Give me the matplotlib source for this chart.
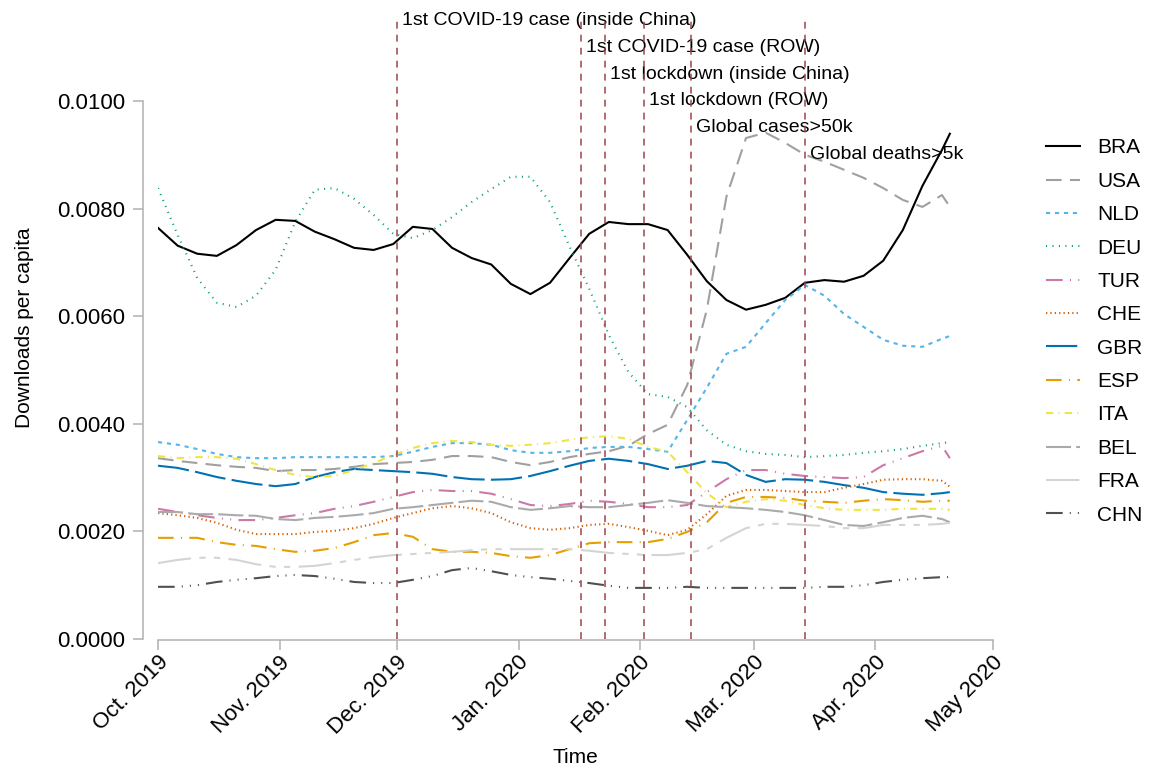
import pandas as pd
import matplotlib
matplotlib.use('Agg')
import matplotlib.pyplot as plt
import matplotlib.dates as mdates
from matplotlib.transforms import ScaledTranslation

plt.rcParams['font.family'] = ['Liberation Sans', 'DejaVu Sans']

####### Data (downloads per capita, every 5 days from 1 Oct 2019)

dates = list(pd.date_range('2019-10-01', '2020-04-18', freq='5D')) + [pd.Timestamp('2020-04-20')]

bra = [0.00764, 0.00731, 0.00716, 0.00712, 0.00732, 0.00760, 0.00779, 0.00777, 0.00757, 0.00743,
       0.00727, 0.00723, 0.00734, 0.00766, 0.00762, 0.00727, 0.00708, 0.00696, 0.00660, 0.00641,
       0.00662, 0.00708, 0.00753, 0.00775, 0.00771, 0.00771, 0.00760, 0.00714, 0.00665, 0.00630,
       0.00612, 0.00621, 0.00634, 0.00662, 0.00667, 0.00664, 0.00675, 0.00703, 0.00760, 0.00842,
       0.00909, 0.00939]
usa = [0.00336, 0.00331, 0.00327, 0.00323, 0.00320, 0.00318, 0.00312, 0.00314, 0.00314, 0.00316,
       0.00320, 0.00325, 0.00327, 0.00329, 0.00333, 0.00340, 0.00340, 0.00338, 0.00329, 0.00323,
       0.00329, 0.00338, 0.00344, 0.00349, 0.00359, 0.00381, 0.00398, 0.00472, 0.00612, 0.00822,
       0.00931, 0.00941, 0.00922, 0.00900, 0.00887, 0.00872, 0.00857, 0.00838, 0.00816, 0.00803,
       0.00825, 0.00803]
nld = [0.00366, 0.00361, 0.00353, 0.00344, 0.00338, 0.00336, 0.00336, 0.00338, 0.00338, 0.00338,
       0.00338, 0.00338, 0.00340, 0.00348, 0.00357, 0.00364, 0.00364, 0.00361, 0.00351, 0.00346,
       0.00346, 0.00349, 0.00355, 0.00357, 0.00357, 0.00353, 0.00348, 0.00407, 0.00467, 0.00530,
       0.00543, 0.00587, 0.00630, 0.00658, 0.00638, 0.00604, 0.00580, 0.00556, 0.00545, 0.00543,
       0.00558, 0.00563]
deu = [0.00838, 0.00751, 0.00671, 0.00625, 0.00617, 0.00638, 0.00686, 0.00775, 0.00835, 0.00838,
       0.00818, 0.00788, 0.00753, 0.00745, 0.00760, 0.00784, 0.00812, 0.00836, 0.00859, 0.00859,
       0.00812, 0.00729, 0.00651, 0.00565, 0.00496, 0.00455, 0.00450, 0.00431, 0.00388, 0.00361,
       0.00349, 0.00344, 0.00342, 0.00338, 0.00340, 0.00342, 0.00346, 0.00349, 0.00353, 0.00359,
       0.00364, 0.00366]
tur = [0.00242, 0.00236, 0.00230, 0.00225, 0.00221, 0.00221, 0.00225, 0.00230, 0.00234, 0.00242,
       0.00247, 0.00255, 0.00264, 0.00273, 0.00277, 0.00275, 0.00275, 0.00270, 0.00260, 0.00249,
       0.00247, 0.00251, 0.00257, 0.00255, 0.00251, 0.00245, 0.00245, 0.00249, 0.00273, 0.00297,
       0.00314, 0.00314, 0.00307, 0.00303, 0.00301, 0.00299, 0.00301, 0.00323, 0.00336, 0.00349,
       0.00359, 0.00336]
che = [0.00234, 0.00230, 0.00225, 0.00216, 0.00203, 0.00195, 0.00195, 0.00195, 0.00199, 0.00201,
       0.00206, 0.00214, 0.00225, 0.00234, 0.00243, 0.00247, 0.00243, 0.00234, 0.00217, 0.00206,
       0.00203, 0.00206, 0.00212, 0.00214, 0.00208, 0.00201, 0.00193, 0.00203, 0.00232, 0.00266,
       0.00277, 0.00277, 0.00275, 0.00273, 0.00273, 0.00281, 0.00288, 0.00296, 0.00297, 0.00297,
       0.00294, 0.00283]
gbr = [0.00322, 0.00318, 0.00310, 0.00301, 0.00294, 0.00288, 0.00284, 0.00288, 0.00301, 0.00310,
       0.00316, 0.00314, 0.00312, 0.00310, 0.00307, 0.00301, 0.00297, 0.00296, 0.00297, 0.00303,
       0.00312, 0.00322, 0.00331, 0.00335, 0.00331, 0.00325, 0.00316, 0.00322, 0.00331, 0.00327,
       0.00305, 0.00292, 0.00297, 0.00296, 0.00292, 0.00286, 0.00281, 0.00273, 0.00270, 0.00268,
       0.00271, 0.00273]
esp = [0.00188, 0.00188, 0.00188, 0.00180, 0.00175, 0.00173, 0.00167, 0.00162, 0.00164, 0.00169,
       0.00180, 0.00193, 0.00197, 0.00190, 0.00167, 0.00162, 0.00162, 0.00160, 0.00154, 0.00151,
       0.00156, 0.00167, 0.00178, 0.00180, 0.00180, 0.00180, 0.00186, 0.00199, 0.00217, 0.00253,
       0.00264, 0.00264, 0.00262, 0.00257, 0.00255, 0.00253, 0.00257, 0.00260, 0.00258, 0.00255,
       0.00257, 0.00257]
ita = [0.00340, 0.00336, 0.00338, 0.00338, 0.00335, 0.00325, 0.00314, 0.00305, 0.00301, 0.00303,
       0.00314, 0.00327, 0.00342, 0.00355, 0.00364, 0.00368, 0.00366, 0.00361, 0.00359, 0.00361,
       0.00364, 0.00370, 0.00375, 0.00377, 0.00372, 0.00357, 0.00348, 0.00310, 0.00271, 0.00245,
       0.00255, 0.00260, 0.00257, 0.00249, 0.00243, 0.00240, 0.00240, 0.00240, 0.00242, 0.00242,
       0.00242, 0.00240]
bel = [0.00236, 0.00236, 0.00232, 0.00232, 0.00230, 0.00229, 0.00223, 0.00221, 0.00225, 0.00227,
       0.00230, 0.00234, 0.00242, 0.00245, 0.00249, 0.00253, 0.00257, 0.00255, 0.00245, 0.00240,
       0.00243, 0.00247, 0.00245, 0.00245, 0.00249, 0.00253, 0.00258, 0.00253, 0.00247, 0.00245,
       0.00243, 0.00240, 0.00236, 0.00230, 0.00221, 0.00212, 0.00210, 0.00217, 0.00225, 0.00229,
       0.00223, 0.00217]
fra = [0.00141, 0.00147, 0.00151, 0.00151, 0.00147, 0.00139, 0.00134, 0.00134, 0.00136, 0.00141,
       0.00147, 0.00152, 0.00156, 0.00158, 0.00160, 0.00162, 0.00165, 0.00167, 0.00167, 0.00167,
       0.00167, 0.00167, 0.00164, 0.00160, 0.00158, 0.00156, 0.00156, 0.00160, 0.00167, 0.00188,
       0.00206, 0.00214, 0.00214, 0.00212, 0.00210, 0.00206, 0.00206, 0.00212, 0.00212, 0.00212,
       0.00214, 0.00216]
chn = [0.00097, 0.00097, 0.00100, 0.00106, 0.00110, 0.00113, 0.00117, 0.00119, 0.00117, 0.00112,
       0.00106, 0.00104, 0.00104, 0.00110, 0.00117, 0.00128, 0.00132, 0.00126, 0.00119, 0.00115,
       0.00112, 0.00108, 0.00104, 0.00099, 0.00095, 0.00095, 0.00095, 0.00097, 0.00095, 0.00095,
       0.00095, 0.00095, 0.00095, 0.00095, 0.00097, 0.00097, 0.00100, 0.00106, 0.00110, 0.00113,
       0.00115, 0.00115]

countries = ['BRA', 'USA', 'NLD', 'DEU', 'TUR', 'CHE', 'GBR', 'ESP', 'ITA', 'BEL', 'FRA', 'CHN']
series = [bra, usa, nld, deu, tur, che, gbr, esp, ita, bel, fra, chn]

colors = ['#000000', '#a0a0a0', '#56B4E9', '#009E73', '#CC79A7', '#D55E00',
          '#0072B2', '#E69F00', '#F0E442', '#aaaaaa', '#d4d4d4', '#505050']
styles = ['-', (0, (7.5, 4)), (0, (2, 2.3)), (0, (0.5, 2.6)),
          (0, (8, 3.5, 0.5, 3.5, 0.5, 3.5)), (0, (0.6, 1.5)), (0, (15, 3)),
          (0, (7.5, 3.5, 0.5, 3.5)), (0, (3.5, 2.5, 0.5, 2.5)), (0, (12, 2.5)),
          (0, (16, 4, 3, 4, 3, 4)), (0, (8, 3.4, 0.5, 3.4, 0.5, 3.4, 0.5, 3.4))]

events = ['1st COVID-19 case (inside China)', '1st COVID-19 case (ROW)',
          '1st lockdown (inside China)', '1st lockdown (ROW)',
          'Global cases>50k', 'Global deaths>5k']
event_dates = ['2019-12-01', '2020-01-17', '2020-01-23', '2020-02-02', '2020-02-14', '2020-03-14']
event_y = [0.0115, 0.0110, 0.0105, 0.0100, 0.0095, 0.0090]

tick_dates = ['2019-10-01', '2019-11-01', '2019-12-01', '2020-01-01',
              '2020-02-01', '2020-03-01', '2020-04-01', '2020-05-01']
tick_labels = ['Oct. 2019', 'Nov. 2019', 'Dec. 2019', 'Jan. 2020',
               'Feb. 2020', 'Mar. 2020', 'Apr. 2020', 'May 2020']

####### Plot

fig = plt.figure(figsize=(11.51, 7.71), dpi=100)
ax = fig.add_axes([0.1373, 0.1712, 0.7254, 0.8068])

for name, vals, c, ls in zip(countries, series, colors, styles):
    ax.plot(dates, vals, color=c, linestyle=ls, linewidth=1.5, label=name)

for txt, d, y in zip(events, event_dates, event_y):
    d = pd.Timestamp(d)
    ax.axvline(d, color='#a0424c', linestyle=(0, (4.5, 4)), linewidth=1.1, zorder=3)
    ax.text(d + pd.Timedelta(days=1.3), y, txt, fontsize=14, va='center', ha='left')

ax.set_xlim(pd.Timestamp('2019-10-01'), pd.Timestamp('2020-05-01'))
ax.set_ylim(0, 0.01156)

ax.set_yticks([0, 0.002, 0.004, 0.006, 0.008, 0.010])
ax.yaxis.set_major_formatter(matplotlib.ticker.FormatStrFormatter('%.4f'))
ax.set_xticks([pd.Timestamp(t) for t in tick_dates])
ax.set_xticklabels(tick_labels)

for s in ['top', 'right']:
    ax.spines[s].set_visible(False)
ax.spines['left'].set_position(('outward', 11))
ax.spines['bottom'].set_position(('outward', 1))
ax.spines['left'].set_bounds(0, 0.010)
ax.spines['bottom'].set_bounds(mdates.date2num(pd.Timestamp(tick_dates[0])),
                               mdates.date2num(pd.Timestamp(tick_dates[-1])))
for s in ['left', 'bottom']:
    ax.spines[s].set_color('#b0b0b0')
    ax.spines[s].set_linewidth(1.1)
ax.tick_params(axis='both', colors='#b0b0b0', labelcolor='black', labelsize=16,
               length=7, width=1.1, pad=5.5)
ax.tick_params(axis='x', pad=4)
shift = ScaledTranslation(0.07, -0.035, fig.dpi_scale_trans)
for lbl in ax.get_xticklabels():
    lbl.set_rotation(45)
    lbl.set_ha('right')
    lbl.set_va('center')
    lbl.set_rotation_mode('anchor')
    lbl.set_transform(lbl.get_transform() + shift)

ax.set_ylabel('Downloads per capita', fontsize=15, labelpad=17)
ax.set_xlabel('Time', fontsize=15)
ax.xaxis.set_label_coords(0.5, -0.175)

fig.legend(loc='center left', bbox_to_anchor=(1038 / 1151, 0.570), frameon=False,
           fontsize=15, handlelength=1.6, handletextpad=0.85, labelspacing=0.69,
           borderaxespad=0)

fig.savefig('out.png', dpi=100)
